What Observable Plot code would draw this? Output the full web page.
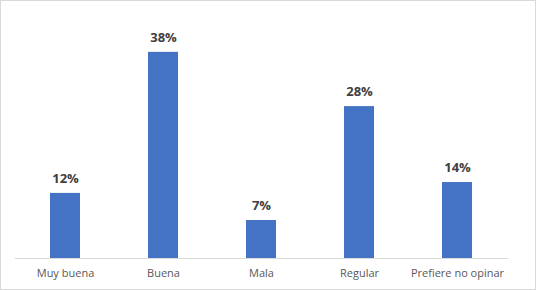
<!DOCTYPE html>
<html>
<head>
<meta charset="utf-8">
<script src="https://cdn.jsdelivr.net/npm/d3@7"></script>
<script src="https://cdn.jsdelivr.net/npm/@observablehq/plot@0.6"></script>
<style>
  body { margin: 0; background: #fff; }
  #wrap { position: relative; width: 536px; height: 290px; overflow: hidden; }
  #border { position: absolute; left: 0; top: 0; right: 0; bottom: 0; border: 1px solid #d9d9d9; pointer-events: none; }
  svg { display: block; }
</style>
</head>
<body>
<div id="wrap"><div id="border"></div></div>
<script>
const categories = ["Muy buena", "Buena", "Mala", "Regular", "Prefiere no opinar"];
const values = [12, 38, 7, 28, 14];
const labels = ["12%", "38%", "7%", "28%", "14%"];

const data = categories.map((c, i) => ({category: c, value: values[i], label: labels[i]}));

const chart = Plot.plot({
  width: 536,
  height: 290,
  marginTop: 41,
  marginBottom: 32,
  marginLeft: 15,
  marginRight: 28,
  style: {fontFamily: "'Open Sans', 'Liberation Sans', sans-serif", background: "transparent"},
  x: {domain: categories, paddingInner: 0.69, paddingOuter: 0.345, align: 0.5, label: null},
  y: {domain: [0, 40], axis: null},
  marks: [
    Plot.barY(data, {x: "category", y: "value", fill: "#4472c4"}),
    Plot.ruleY([0], {stroke: "#d9d9d9", strokeWidth: 1}),
    Plot.text(data, {x: "category", y: "value", text: "label", dy: -15, fontSize: 13, fontWeight: "bold", fill: "#404040"}),
    Plot.axisX({tickSize: 0, tickPadding: 11, fontSize: 11, fill: "#595959", label: null})
  ]
});
document.getElementById("wrap").prepend(chart);
</script>
</body>
</html>
